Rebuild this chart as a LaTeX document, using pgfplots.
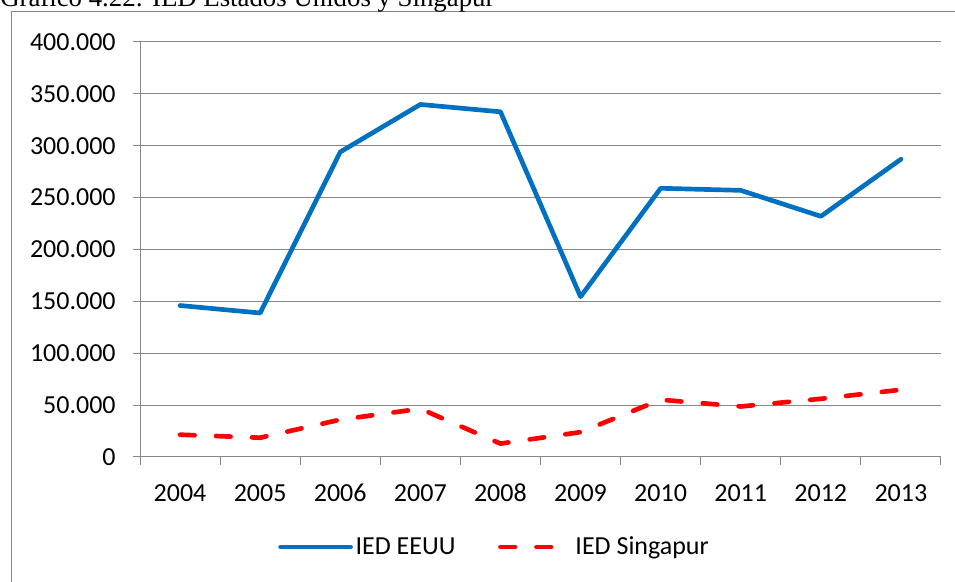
\documentclass[border=0pt]{standalone}
\usepackage{fontspec}
\setmainfont{Carlito}
\newfontfamily\titlefont{Liberation Serif}
\usepackage{pgfplots}
\pgfplotsset{compat=1.18}
\definecolor{cEEUU}{RGB}{0,112,192}
\definecolor{cSing}{RGB}{255,0,0}
\definecolor{cGrid}{RGB}{134,134,134}

\begin{document}
\begin{tikzpicture}[x=0.75pt,y=0.75pt]
\useasboundingbox (0,0) rectangle (955,581);
% outer frame of the chart object (only left and top edges visible)
\draw[cGrid, line width=0.75pt] (11,-10) -- (11,569) -- (965,569);
\node[anchor=base west, inner sep=0pt, font=\titlefont\fontsize{20.1}{24}\selectfont]
  at (0,574.5) {Gráfico 4.22: IED Estados Unidos y Singapur};
\begin{axis}[
  at={(105pt,93pt)}, anchor=south west,
  scale only axis, width=600.75pt, height=311.25pt,
  xmin=2003.5, xmax=2013.5, ymin=0, ymax=400000,
  axis lines*=left,
  axis line style={cGrid, line width=0.75pt},
  ymajorgrids, grid style={cGrid, line width=0.75pt},
  tick align=outside, tick pos=left,
  ytick={0,50000,...,400000},
  yticklabels={0,50.000,100.000,150.000,200.000,250.000,300.000,350.000,400.000},
  xtick={2004,...,2013},
  xticklabels={2004,2005,2006,2007,2008,2009,2010,2011,2012,2013},
  minor xtick={2003.5,2004.5,...,2013.5},
  major x tick style={draw=none},
  every tick/.style={cGrid, line width=0.75pt},
  major tick length=5.25pt, minor tick length=6pt,
  scaled y ticks=false,
  tick label style={font=\fontsize{19.5}{22}\selectfont, text=black},
  xticklabel style={text height=12.5pt, text depth=0pt, yshift=-12pt},
  yticklabel style={xshift=-9.5pt},
  legend style={at={(0.443,-0.217)}, anchor=center, draw=none, fill=none,
    legend columns=2, font=\fontsize{19.5}{22}\selectfont,
    /tikz/every even column/.append style={column sep=30pt}},
  legend image code/.code={\draw[#1] (0pt,0pt) -- (52.5pt,0pt);},
]
\addplot[cEEUU, line width=3.5pt, line join=round, line cap=round] coordinates {
  (2004,146000) (2005,138800) (2006,294000) (2007,339800) (2008,332700)
  (2009,154500) (2010,259000) (2011,257000) (2012,232000) (2013,287000)};
\addplot[cSing, line width=3.5pt, line join=round, line cap=round,
  dash pattern=on 10.9pt off 16.1pt] coordinates {
  (2004,21500) (2005,18600) (2006,36000) (2007,46500) (2008,12900)
  (2009,24000) (2010,55200) (2011,48700) (2012,56100) (2013,64800)};
\legend{IED EEUU, IED Singapur}
\end{axis}
\end{tikzpicture}
\end{document}
